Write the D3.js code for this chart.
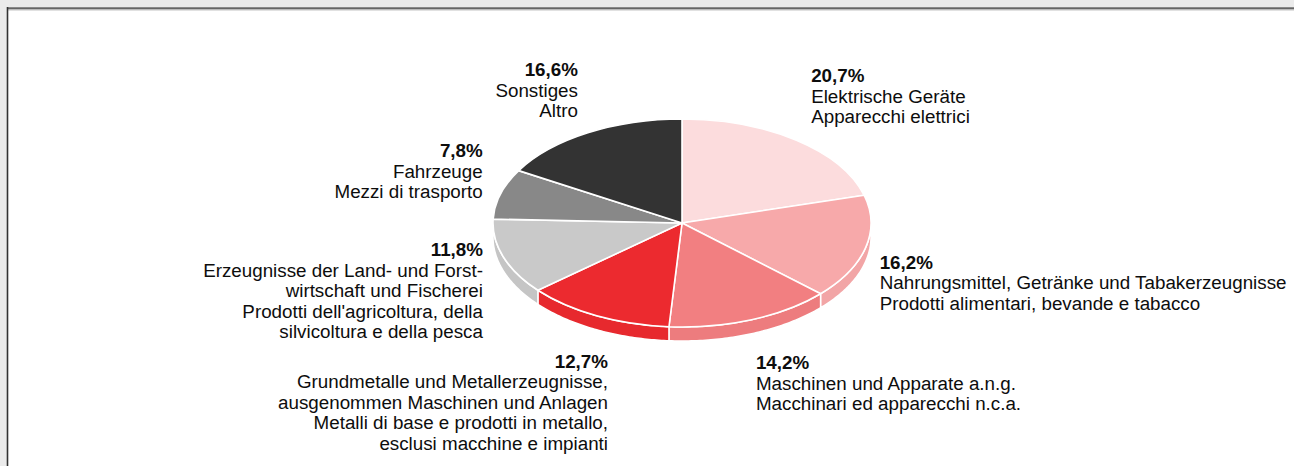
<!DOCTYPE html>
<html><head><meta charset="utf-8">
<script src="https://cdn.jsdelivr.net/npm/d3@7"></script>
<style>
body{margin:0;background:#ebebeb;overflow:hidden;}
svg{display:block;}
text{font-family:"Liberation Sans",Arial,sans-serif;font-size:18.8px;fill:#0d0d0d;}
</style>
</head><body>
<svg id="chart" width="1294" height="466"></svg>
<script>
// ---- data ----
const categories = ["Elektrische Geräte","Nahrungsmittel","Maschinen","Grundmetalle","Erzeugnisse Land/Forst","Fahrzeuge","Sonstiges"];
const values = [20.7, 16.2, 14.2, 12.7, 11.8, 7.8, 16.6];
const labelsDE = [
  ["Elektrische Geräte"],
  ["Nahrungsmittel, Getränke und Tabakerzeugnisse"],
  ["Maschinen und Apparate a.n.g."],
  ["Grundmetalle und Metallerzeugnisse,","ausgenommen Maschinen und Anlagen"],
  ["Erzeugnisse der Land- und Forst-","wirtschaft und Fischerei"],
  ["Fahrzeuge"],
  ["Sonstiges"]
];
const labelsIT = [
  ["Apparecchi elettrici"],
  ["Prodotti alimentari, bevande e tabacco"],
  ["Macchinari ed apparecchi n.c.a."],
  ["Metalli di base e prodotti in metallo,","esclusi macchine e impianti"],
  ["Prodotti dell'agricoltura, della","silvicoltura e della pesca"],
  ["Mezzi di trasporto"],
  ["Altro"]
];
const colors = ["#fcdcdd","#f7a9aa","#f27f81","#ec2a2f","#c9c9c9","#888888","#333333"];

// ---- layout ----
const W = 1294, H = 466;
const cx = 682, cy = 223, rx = 189, ry = 104, depth = 14;
const labelR = 1.12, lineH = 20.5;
const labelNudge = [[1,-48],[-8,18],[-4,38],[21.5,41],[1,-5],[4,-33.5],[1.4,-46]];

const svg = d3.select("#chart");

// frame
svg.append("rect").attr("x",0).attr("y",0).attr("width",W).attr("height",H).attr("fill","#ebebeb");
svg.append("rect").attr("x",8).attr("y",9).attr("width",W).attr("height",H).attr("fill","#ffffff");
svg.append("line").attr("x1",7).attr("x2",W).attr("y1",7.5).attr("y2",7.5).attr("stroke","#8a8a8a").attr("stroke-width",1);
svg.append("line").attr("x1",7).attr("x2",W).attr("y1",8.8).attr("y2",8.8).attr("stroke","#666").attr("stroke-width",1.4);
svg.append("line").attr("x1",7).attr("x2",W).attr("y1",10).attr("y2",10).attr("stroke","#c4c4c4").attr("stroke-width",1);
svg.append("line").attr("x1",7.5).attr("x2",7.5).attr("y1",7).attr("y2",H).attr("stroke","#333").attr("stroke-width",1.6);

const pieData = d3.pie().sort(null).value(d => d)(values);
const fmtNum = d3.formatLocale({decimal:",",thousands:".",grouping:[3],currency:["",""]}).format(".1f");

const ex = a => cx + rx*Math.sin(a);
const ey = (a, off=0) => cy - ry*Math.cos(a) + off;
const lineGen = d3.line();

// side walls (front half only)
const wallsG = svg.append("g");
pieData.forEach((p,i) => {
  const a0 = Math.max(p.startAngle, Math.PI/2), a1 = Math.min(p.endAngle, 3*Math.PI/2);
  if (a1 <= a0) return;
  const n = 60, pts = [];
  for (let k=0;k<=n;k++){ const a=a0+(a1-a0)*k/n; pts.push([ex(a),ey(a)]); }
  for (let k=n;k>=0;k--){ const a=a0+(a1-a0)*k/n; pts.push([ex(a),ey(a,depth)]); }
  wallsG.append("path").attr("d", lineGen(pts)+"Z")
    .attr("fill", d3.color(colors[i]).darker(0.06))
    .attr("stroke","#fff").attr("stroke-width",1.5).attr("stroke-linejoin","round");
});

// top faces
const arcGen = d3.arc().innerRadius(0).outerRadius(rx);
const topG = svg.append("g").attr("transform",`translate(${cx},${cy}) scale(1,${ry/rx})`);
topG.selectAll("path").data(pieData).join("path")
  .attr("d", arcGen)
  .attr("fill",(d,i)=>colors[i])
  .attr("stroke","#fff").attr("stroke-width",1.6)
  .attr("vector-effect","non-scaling-stroke")
  .attr("stroke-linejoin","round");

// labels
const labG = svg.append("g");
pieData.forEach((p,i) => {
  const mid = (p.startAngle+p.endAngle)/2;
  const right = Math.sin(mid) > 0;
  const x = cx + rx*labelR*Math.sin(mid) + labelNudge[i][0];
  const y = cy - ry*labelR*Math.cos(mid) + labelNudge[i][1];
  const t = labG.append("text").attr("text-anchor", right ? "start" : "end");
  const lines = [fmtNum(values[i])+"%"].concat(labelsDE[i], labelsIT[i]);
  lines.forEach((s,k) => {
    t.append("tspan").attr("x",x).attr("y",y+k*lineH)
      .attr("font-weight", k===0 ? "bold" : null).text(s);
  });
});
</script>
</body></html>
